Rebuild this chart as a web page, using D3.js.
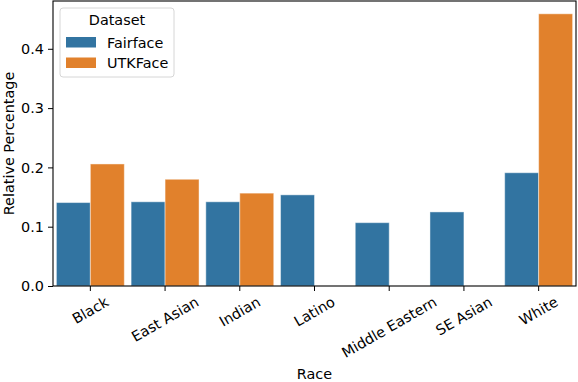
<!DOCTYPE html>
<html>
<head>
<meta charset="utf-8">
<script src="https://cdn.jsdelivr.net/npm/d3@7"></script>
<style>
  body { margin: 0; background: #fff; }
  svg { font-family: "DejaVu Sans", sans-serif; }
</style>
</head>
<body>
<svg id="chart" width="578" height="382"></svg>
<script>
(function () {
  const races = ["Black", "East Asian", "Indian", "Latino", "Middle Eastern", "SE Asian", "White"];
  const datasets = ["Fairface", "UTKFace"];
  const fairface = [0.1407, 0.142, 0.142, 0.1537, 0.1068, 0.1249, 0.191];
  const utkface = [0.2058, 0.180, 0.1566, 0, 0, 0, 0.459];
  const yTicks = [0, 0.1, 0.2, 0.3, 0.4];
  const colors = { Fairface: "#3274a1", UTKFace: "#e1812c" };

  const svg = d3.select("#chart");
  const left = 53, right = 576, top = 1, bottom = 286;
  const fontSize = 14.4;

  const x = d3.scaleBand().domain(races).range([left, right]).paddingInner(0).paddingOuter(0);
  const inner = d3.scaleBand().domain(datasets).range([0, x.bandwidth()]).paddingOuter(0.1).paddingInner(0);
  const y = d3.scaleLinear().domain([0, 0.4806]).range([bottom, top]);

  const rows = races.map((race, i) => ({ race, Fairface: fairface[i], UTKFace: utkface[i] }));

  const groups = svg.append("g")
    .selectAll("g")
    .data(rows)
    .join("g")
    .attr("transform", (d) => `translate(${x(d.race)},0)`);

  groups.selectAll("rect")
    .data((d) => datasets.map((key) => ({ key, value: d[key] })).filter((d) => d.value > 0))
    .join("rect")
    .attr("x", (d) => inner(d.key))
    .attr("y", (d) => y(d.value))
    .attr("width", inner.bandwidth())
    .attr("height", (d) => y(0) - y(d.value))
    .attr("fill", (d) => colors[d.key])
    .attr("stroke", "rgba(255,255,255,0.45)")
    .attr("stroke-width", 1);

  // frame
  svg.append("rect")
    .attr("x", left).attr("y", top)
    .attr("width", right - left).attr("height", bottom - top)
    .attr("fill", "none").attr("stroke", "#000").attr("stroke-width", 1.1);

  // y axis
  const yAxis = svg.append("g")
    .attr("transform", `translate(${left},0)`)
    .call(d3.axisLeft(y).tickValues(yTicks).tickFormat(d3.format(".1f")).tickSize(5).tickPadding(4));
  yAxis.select(".domain").remove();
  yAxis.selectAll("text").attr("font-size", fontSize).attr("font-family", "DejaVu Sans").attr("fill", "#000");
  yAxis.selectAll("line").attr("stroke", "#000");

  // x axis
  const xAxis = svg.append("g")
    .attr("transform", `translate(0,${bottom})`)
    .call(d3.axisBottom(x).tickSize(5).tickFormat(""));
  xAxis.select(".domain").remove();
  xAxis.selectAll("line").attr("stroke", "#000");

  const angle = 30 * Math.PI / 180;
  const labels = svg.append("g").selectAll("text")
    .data(races)
    .join("text")
    .attr("font-size", fontSize)
    .attr("fill", "#000")
    .attr("text-anchor", "middle")
    .attr("dominant-baseline", "central")
    .text((d) => d);
  labels.each(function (d) {
    const len = this.getComputedTextLength();
    const h = fontSize * 1.05;
    const boxH = len * Math.sin(angle) + h * Math.cos(angle);
    const cx = x(d) + x.bandwidth() / 2;
    const cy = bottom + 5 + 3 + boxH / 2;
    d3.select(this).attr("transform", `translate(${cx},${cy}) rotate(-30)`);
  });

  svg.append("text")
    .attr("x", (left + right) / 2).attr("y", 379)
    .attr("text-anchor", "middle").attr("font-size", fontSize)
    .text("Race");

  svg.append("text")
    .attr("transform", `translate(13.5,${(top + bottom) / 2}) rotate(-90)`)
    .attr("text-anchor", "middle").attr("font-size", fontSize)
    .text("Relative Percentage");

  // legend
  const legend = svg.append("g").attr("transform", "translate(60,8)");
  legend.append("rect")
    .attr("width", 114).attr("height", 69).attr("rx", 3)
    .attr("fill", "rgba(255,255,255,0.8)").attr("stroke", "#d6d6d6");
  legend.append("text")
    .attr("x", 57).attr("y", 17).attr("text-anchor", "middle")
    .attr("font-size", fontSize).text("Dataset");
  const items = legend.selectAll("g.item")
    .data(datasets)
    .join("g")
    .attr("class", "item")
    .attr("transform", (d, i) => `translate(6,${29 + i * 20.5})`);
  items.append("rect")
    .attr("width", 30).attr("height", 10.5)
    .attr("fill", (d) => colors[d]);
  items.append("text")
    .attr("x", 41).attr("y", 5.5).attr("dominant-baseline", "central")
    .attr("font-size", fontSize).text((d) => d);
})();
</script>
</body>
</html>
